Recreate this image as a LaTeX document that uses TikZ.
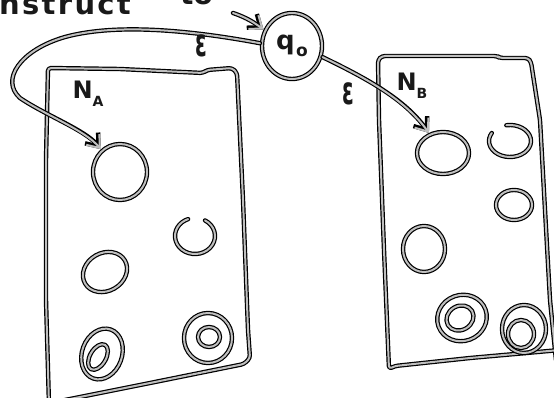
\documentclass[tikz,border=0pt]{standalone}
\usepackage{fontspec}
\setmainfont{DejaVu Sans}
\usetikzlibrary{arrows.meta,shapes.geometric}
\tikzset{
  pen/.style={draw=black, line width=4.4pt, line cap=round, line join=round,
              postaction={draw=gray!50, line width=2pt}},
  stt/.style={pen, ellipse, inner sep=0pt},
  tip/.style={-{Straight Barb[length=11pt,width=17pt]}},
  lbl/.style={text=black!90, inner sep=0pt},
}
\begin{document}
\begin{tikzpicture}[x=1pt,y=-1pt]
\useasboundingbox (0,0) rectangle (554,398);
\clip (0,0) rectangle (554,398);
\fill[white] (0,0) rectangle (554,398);

% top texts (cut off)
\node[lbl, anchor=base west, font=\fontsize{29}{29}\selectfont\bfseries\addfontfeature{LetterSpace=8}] (t1) at (-1,15) {nstruct};
\node[lbl, anchor=base west, font=\fontsize{28}{28}\selectfont\bfseries] (t2) at (180,5) {to};

% boxes
\draw[pen, rounded corners=3pt] (49,405) -- (46,300) -- (46,160) -- (48,68) -- (120,69) -- (203,73)
   -- (207,70) -- (232,68) -- (237,73) -- (243,200) -- (248,330) -- (250,358) -- (244,364)
   -- (150,383) -- (60,401);
\draw[pen, rounded corners=3pt] (560,350) -- (470,358) -- (395,366) -- (389,369) -- (384,250)
   -- (379,120) -- (378,60) -- (382,56) -- (450,56) -- (497,56) -- (500,58) -- (528,58)
   -- (531,62) -- (540,120) -- (550,300) -- (556,360);

% labels N_A, N_B
\node[lbl, font=\fontsize{24}{24}\selectfont\bfseries] (na) at (88,94) {N\raisebox{-8pt}{\fontsize{14}{14}\selectfont A}};
\node[lbl, font=\fontsize{24}{24}\selectfont\bfseries] (nb) at (412,86) {N\raisebox{-8pt}{\fontsize{14}{14}\selectfont B}};

% q0
\node[stt, minimum width=60pt, minimum height=66pt, text=black!90, font=\fontsize{26}{26}\selectfont\bfseries] (q0) at (292,46)
  {q\kern1.5pt\raisebox{-7pt}{\fontsize{17}{17}\selectfont o}};

% states of N_A
\node[stt, minimum width=54pt, minimum height=56pt] (a1) at (120,172) {};
\node[stt, minimum width=46pt, minimum height=38pt, rotate=30] (a3) at (105,272) {};
\node[stt, minimum width=40pt, minimum height=52pt, rotate=-20] (a4) at (102,354) {};
\node[stt, minimum width=16pt, minimum height=28pt, rotate=-30] (a4i) at (98,357) {};
\node[stt, minimum width=48pt, minimum height=50pt] (a5) at (208,338) {};
\node[stt, minimum width=22pt, minimum height=20pt] (a5i) at (209,337) {};

% states of N_B
\node[stt, minimum width=52pt, minimum height=42pt] (b1) at (443,153) {};
\node[stt, minimum width=36pt, minimum height=30pt] (b3) at (514,205) {};
\node[stt, minimum width=42pt, minimum height=46pt] (b4) at (424,249) {};
\node[stt, minimum width=50pt, minimum height=46pt, rotate=20] (b5) at (462,318) {};
\node[stt, minimum width=28pt, minimum height=24pt, rotate=30] (b5i) at (460,318) {};
\node[stt, minimum width=44pt, minimum height=48pt] (b6) at (524,329) {};
\node[stt, minimum width=26pt, minimum height=28pt] (b6i) at (521,334) {};

% open (C-shaped) states
\draw[pen] (195,236) ++(-60:20 and 18) arc[start angle=-60, end angle=250, x radius=20, y radius=18];
\draw[pen] (510,141) ++(-100:21 and 16) arc[start angle=-100, end angle=210, x radius=21, y radius=16];

% connectors
\coordinate (s) at (233,13);
\draw[pen, tip] (s) .. controls (248,18) and (256,24) .. (q0.150);
\draw[pen, tip] (q0.175) .. controls (200,32) and (120,22) .. (65,37)
   .. controls (20,50) and (0,80) .. (20,98)
   .. controls (45,115) and (85,130) .. (a1.130);
\draw[pen, tip] (q0.-20) .. controls (370,80) and (405,100) .. (b1.125);

% epsilon labels
\node[lbl, font=\fontsize{30}{30}\selectfont\bfseries] (e1) at (201,46) {\scalebox{0.7}[1.3]{ε}};
\node[lbl, font=\fontsize{30}{30}\selectfont\bfseries] (e2) at (348,94) {\scalebox{0.7}[1.3]{ε}};
\end{tikzpicture}
\end{document}
